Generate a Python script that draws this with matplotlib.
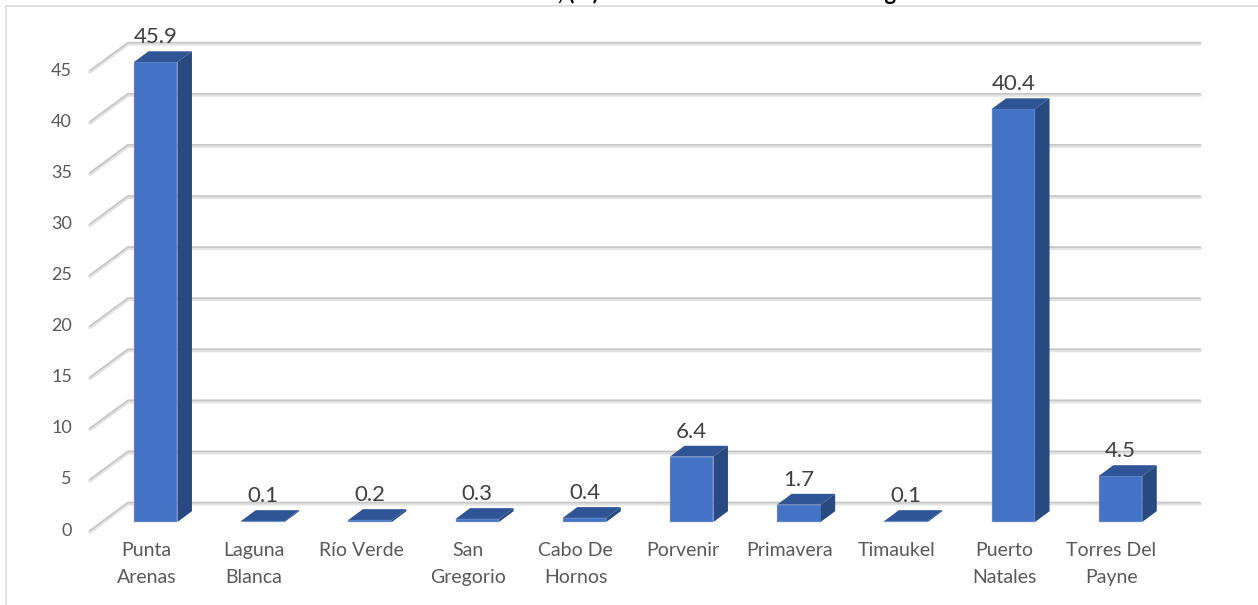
import matplotlib
matplotlib.use("Agg")
import matplotlib.pyplot as plt
import numpy as np
from matplotlib.lines import Line2D
from matplotlib.patches import Polygon
from matplotlib.transforms import ScaledTranslation

comunas = ["Punta\nArenas", "Laguna\nBlanca", "Río Verde", "San\nGregorio", "Cabo De\nHornos",
           "Porvenir", "Primavera", "Timaukel", "Puerto\nNatales", "Torres Del\nPayne"]
valores = [45.9, 0.1, 0.2, 0.3, 0.4, 6.4, 1.7, 0.1, 40.4, 4.5]
y_ticks = [0, 5, 10, 15, 20, 25, 30, 35, 40, 45]
titulo = "Gráfico N° 1: Población, (%) Urbana de comunas de la Región"

W, H = 1258, 605
DPI = 100
PX_X = 107.2   # pixels per category
PX_Y = 10.22   # pixels per value unit
X0_PX = 155.7  # centre of first bar
Y0_PX = 522    # value 0 at bar front
LEFT, RIGHT, TOP, BOTTOM = 90, 1200, 40, 531

plt.rcParams['font.family'] = ['Lato', 'DejaVu Sans']

fig = plt.figure(figsize=(W / DPI, H / DPI), dpi=DPI)
ax = fig.add_axes([LEFT / W, (H - BOTTOM) / H, (RIGHT - LEFT) / W, (BOTTOM - TOP) / H])
ax.set_xlim((LEFT - X0_PX) / PX_X, (RIGHT - X0_PX) / PX_X)
ax.set_ylim((Y0_PX - BOTTOM) / PX_Y, (Y0_PX - TOP) / PX_Y)
ax.patch.set_alpha(0)
for s in ax.spines.values():
    s.set_visible(False)

# gridlines: oblique floor part then along the back wall
x_front = ax.get_xlim()[0]
x_back = (128 - X0_PX) / PX_X
y_front = (Y0_PX - 531) / PX_Y
y_back = (Y0_PX - 503) / PX_Y
for v in y_ticks:
    xs = [x_front, x_back, ax.get_xlim()[1]]
    ys = [v + y_front, v + y_back, v + y_back]
    ax.plot(xs, np.array(ys) - 0.06, color="#e3e3e3", lw=2.8, zorder=1, clip_on=False,
            solid_capstyle="round", solid_joinstyle="round")
    ax.plot(xs, np.array(ys) + 0.04, color="#c6c6c6", lw=1.1, zorder=1.1, clip_on=False,
            solid_capstyle="round", solid_joinstyle="round")

# 3D bars, heights stop at the axis maximum as in the original
x = np.arange(len(valores))
alturas = np.minimum(valores, y_ticks[-1])
ancho = 43.5 / PX_X
dx = 14.5 / PX_X
dy = 10.8 / PX_Y
ax.bar(x, alturas, width=ancho, color="#4472c4", edgecolor="#b4c4e4", linewidth=0.3, zorder=3)
for xi, h in zip(x, alturas):
    l, r = xi - ancho / 2, xi + ancho / 2
    ax.add_patch(Polygon([(l, h), (r, h), (r + dx, h + dy), (l + dx, h + dy)],
                         facecolor="#2f5597", edgecolor="none", zorder=3))
    ax.add_patch(Polygon([(r, 0), (r, h), (r + dx, h + dy), (r + dx, dy)],
                         facecolor="#294a80", edgecolor="none", zorder=3))

for xi, h, v in zip(x, alturas, valores):
    ax.annotate(f"{v}", (xi, h), xytext=(0, 13.5), textcoords="offset points", ha="center",
                va="baseline", fontsize=16, color="#404040", zorder=4)

ax.set_xticks(x, comunas)
ax.set_yticks(y_ticks)
ax.tick_params(axis="both", length=0, colors="#595959", labelsize=13)
ax.tick_params(axis="x", pad=8, labelsize=14)
ax.tick_params(axis="y", pad=13)
for t in ax.get_xticklabels():
    t.set_linespacing(1.7)
    t.set_transform(t.get_transform() + ScaledTranslation(-9 / DPI, 0, fig.dpi_scale_trans))
for t in ax.get_yticklabels():
    t.set_transform(t.get_transform() + ScaledTranslation(0, -7 / DPI, fig.dpi_scale_trans))

# outer frame, only top and left stay inside the crop
fig.add_artist(Line2D([6 / W, 6 / W, 1], [0, 1 - 6 / H, 1 - 6 / H], color="#d9d9d9", lw=1.1))

# title, cut off by the top of the picture
fig.text(927 / W, 1.0, titulo, ha="right", va="baseline", fontsize=16,
         fontweight="bold", color="black")

fig.savefig("out.png", dpi=DPI)
plt.close()
